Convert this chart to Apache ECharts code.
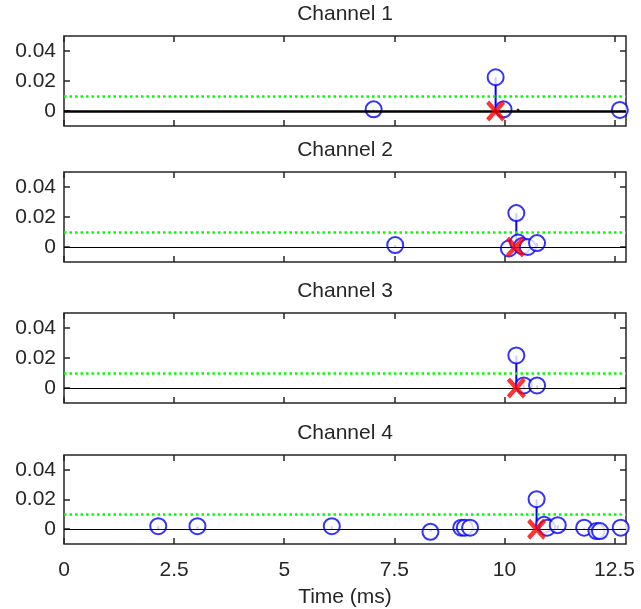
<!DOCTYPE html>
<html>
<head>
<meta charset="utf-8">
<script src="https://cdn.jsdelivr.net/npm/echarts@6/dist/echarts.min.js"></script>
<style>
  html, body { margin: 0; background: #fff; }
  #main { width: 641px; height: 609px; }
</style>
</head>
<body>
<div id="main"></div>
<script>
// data
const channelNames = ["Channel 1", "Channel 2", "Channel 3", "Channel 4"];
const xTicks = [0, 2.5, 5, 7.5, 10, 12.5];
const yTicks = [0, 0.02, 0.04];
const xMax = 12.76;

const ch1Times = [7.03, 9.80, 9.98, 12.62];
const ch1Values = [0.0011, 0.0225, 0.0011, 0.0007];
const ch2Times = [7.52, 10.10, 10.27, 10.31, 10.40, 10.53, 10.74];
const ch2Values = [0.0013, -0.001, 0.0226, 0.003, 0.0006, 0.0, 0.0026];
const ch3Times = [10.27, 10.44, 10.74];
const ch3Values = [0.0217, 0.0017, 0.0017];
const ch4Times = [2.14, 3.03, 6.08, 8.32, 9.02, 9.10, 9.22, 10.73, 10.90, 10.97, 11.21, 11.81, 12.09, 12.17, 12.64];
const ch4Values = [0.002, 0.002, 0.002, -0.0018, 0.001, 0.001, 0.001, 0.0202, 0.003, 0.001, 0.0027, 0.001, -0.0013, -0.0013, 0.001];

const thresholds = [0.0105, 0.0108, 0.011, 0.0101];
const peakTimes = [9.80, 10.25, 10.27, 10.73];
const traceDotTimes = [10.31];
const traceDotValues = [0.0007];

const allTimes = [ch1Times, ch2Times, ch3Times, ch4Times];
const allValues = [ch1Values, ch2Values, ch3Values, ch4Values];

// layout
const gridTops = [36, 172, 313, 455];
const gridHeight = 90;
const textColor = "#262626";
const font = "Liberation Sans, Arial, sans-serif";
const fontSize = 21;
const xShape = "path://M0,1.6L1.6,0L5,3.4L8.4,0L10,1.6L6.6,5L10,8.4L8.4,10L5,6.6L1.6,10L0,8.4L3.4,5Z";

const chart = echarts.init(document.getElementById("main"));

const grid = [], xAxis = [], yAxis = [], series = [];

channelNames.forEach((name, i) => {
  grid.push({
    left: 64, right: 15, top: gridTops[i], height: gridHeight,
    show: true, borderColor: textColor, borderWidth: 1.5, backgroundColor: "#fff",
  });
  const last = i === channelNames.length - 1;
  const noLine = { show: false, onZero: false };
  const tickCommon = { show: true, inside: true, length: 6, lineStyle: { color: textColor, width: 1.5 } };
  const nameStyle = { color: textColor, fontSize: fontSize, fontFamily: font };
  // bottom x axis
  xAxis.push({
    type: "value", gridIndex: i, min: 0, max: xMax, position: "bottom",
    axisLine: noLine, splitLine: { show: false },
    axisTick: Object.assign({ customValues: xTicks }, tickCommon),
    axisLabel: {
      show: last, customValues: xTicks, margin: 16, color: textColor,
      fontSize: fontSize, fontFamily: font,
      formatter: (v) => String(v),
    },
    name: last ? "Time (ms)" : "", nameLocation: "middle", nameGap: 43,
    nameTextStyle: nameStyle,
  });
  // top x axis (mirror ticks + title)
  xAxis.push({
    type: "value", gridIndex: i, min: 0, max: xMax, position: "top",
    axisLine: noLine, splitLine: { show: false },
    axisTick: Object.assign({ customValues: xTicks }, tickCommon),
    axisLabel: { show: false },
    name: name, nameLocation: "middle", nameGap: 11,
    nameTextStyle: nameStyle,
  });
  yAxis.push({
    type: "value", gridIndex: i, min: -0.01, max: 0.05, position: "left",
    axisLine: noLine, splitLine: { show: false },
    axisTick: Object.assign({ customValues: yTicks }, tickCommon),
    axisLabel: {
      customValues: yTicks, margin: 8, color: textColor, fontSize: fontSize, fontFamily: font,
      formatter: (v) => (v === 0 ? "0" : v.toFixed(2)),
    },
  });
  yAxis.push({
    type: "value", gridIndex: i, min: -0.01, max: 0.05, position: "right",
    axisLine: noLine, splitLine: { show: false },
    axisTick: Object.assign({ customValues: yTicks }, tickCommon),
    axisLabel: { show: false },
  });

  const xi = i * 2, yi = i * 2;
  const pts = allTimes[i].map((t, k) => [t, allValues[i][k]]);

  // zero line and threshold
  series.push({
    type: "line", xAxisIndex: xi, yAxisIndex: yi, data: [], silent: true,
    markLine: {
      silent: true, symbol: "none", label: { show: false }, animation: false,
      data: [
        { yAxis: 0, lineStyle: { color: "#000", width: i === 0 ? 2.5 : 1, type: "solid" } },
        { yAxis: thresholds[i], lineStyle: { color: "#00FF00", width: 2.5, type: [2.5, 3] } },
      ],
    },
  });
  // stems
  series.push({
    type: "custom", xAxisIndex: xi, yAxisIndex: yi, data: pts, z: 3,
    encode: { x: 0, y: 1 },
    renderItem: (params, api) => {
      const p0 = api.coord([api.value(0), 0]);
      const p1 = api.coord([api.value(0), api.value(1)]);
      return {
        type: "line",
        shape: { x1: p0[0], y1: p0[1], x2: p1[0], y2: p1[1] },
        style: { stroke: "#0000FF", lineWidth: 2 },
      };
    },
  });
  // circles
  series.push({
    type: "scatter", xAxisIndex: xi, yAxisIndex: yi, data: pts, z: 4,
    symbol: "emptyCircle", symbolSize: 16,
    itemStyle: { color: "#0000FF", borderColor: "#0000FF", borderWidth: 1.7 },
  });
  if (i === 0) {
    series.push({
      type: "scatter", xAxisIndex: xi, yAxisIndex: yi, z: 4,
      data: traceDotTimes.map((t, k) => [t, traceDotValues[k]]),
      symbol: "circle", symbolSize: 3, itemStyle: { color: "#000" },
    });
  }
  // detected peak
  series.push({
    type: "scatter", xAxisIndex: xi, yAxisIndex: yi, data: [[peakTimes[i], 0]], z: 5,
    symbol: xShape, symbolSize: [19, 21], itemStyle: { color: "#FF0000" },
  });
});

chart.setOption({
  animation: false,
  backgroundColor: "#fff",
  grid: grid,
  xAxis: xAxis,
  yAxis: yAxis,
  series: series,
});
</script>
</body>
</html>
